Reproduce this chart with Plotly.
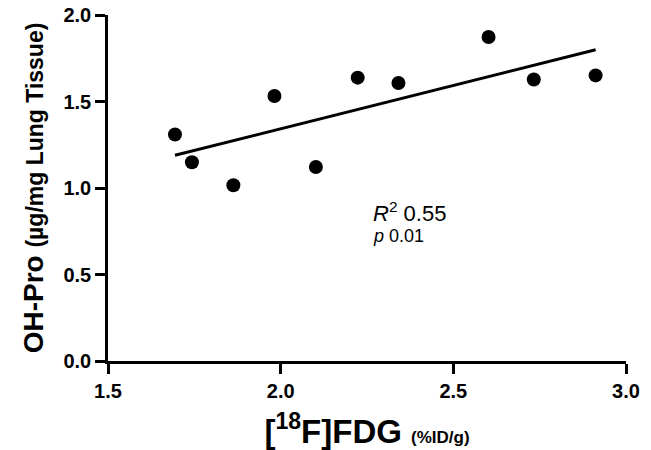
import numpy as np
import plotly.graph_objects as go

# Data
fdg = [1.694, 1.743, 1.863, 1.982, 2.102, 2.223, 2.341, 2.602, 2.733, 2.912]
ohpro = [1.309, 1.149, 1.016, 1.532, 1.121, 1.638, 1.607, 1.873, 1.627, 1.651]
x_ticks = [1.5, 2.0, 2.5, 3.0]
y_ticks = [0.0, 0.5, 1.0, 1.5, 2.0]

slope, intercept = np.polyfit(fdg, ohpro, 1)
fit_x = [min(fdg), max(fdg)]
fit_y = [slope * v + intercept for v in fit_x]

FONT = "Arial, 'Liberation Sans', Helvetica, sans-serif"

fig = go.Figure()
fig.add_trace(go.Scatter(x=fit_x, y=fit_y, mode="lines",
                         line=dict(color="black", width=3), showlegend=False,
                         hoverinfo="skip"))
fig.add_trace(go.Scatter(x=fdg, y=ohpro, mode="markers",
                         marker=dict(color="black", size=14), showlegend=False,
                         cliponaxis=False))

fig.add_annotation(x=2.262, y=0.86, xref="x", yref="y", xanchor="left", yanchor="middle",
                   text="<i>R</i><sup>2</sup> 0.55", showarrow=False,
                   font=dict(family=FONT, size=22, color="black"))
fig.add_annotation(x=2.262, y=0.72, xref="x", yref="y", xanchor="left", yanchor="middle",
                   text="<i>p</i> 0.01", showarrow=False,
                   font=dict(family=FONT, size=18, color="black"))

fig.update_layout(
    width=651, height=450,
    margin=dict(l=108, r=25, t=15, b=89, pad=0),
    plot_bgcolor="white", paper_bgcolor="white",
    font=dict(family=FONT, color="black"),
    xaxis=dict(range=[1.5, 3.0], tickvals=x_ticks, ticktext=[f"{v:.1f}" for v in x_ticks],
               automargin=False, ticklabeloverflow="allow",
               showgrid=False, zeroline=False, showline=True, linecolor="black", linewidth=2.5,
               ticks="outside", ticklen=10, tickwidth=2.5, tickcolor="black",
               tickfont=dict(family=FONT, size=20, color="black", weight="bold"),
               title=dict(text="<b>[<sup>18</sup>F]FDG <span style='font-size:17px'>(%ID/g)</span></b>",
                          font=dict(family=FONT, size=33, color="black"), standoff=21)),
    yaxis=dict(range=[0, 2.0], tickvals=y_ticks, ticktext=[f"{v:.1f}" for v in y_ticks],
               automargin=False, ticklabeloverflow="allow",
               showgrid=False, zeroline=False, showline=True, linecolor="black", linewidth=2.5,
               ticks="outside", ticklen=10, tickwidth=2.5, tickcolor="black",
               tickfont=dict(family=FONT, size=20, color="black", weight="bold"),
               title=dict(text="<b>OH-Pro <span style='font-size:23px'>(µg/mg Lung Tissue)</span></b>",
                          font=dict(family=FONT, size=28, color="black"), standoff=12)),
)

fig.write_html("out.html", config={"displayModeBar": False},
               post_script="document.body.style.margin='0';")
